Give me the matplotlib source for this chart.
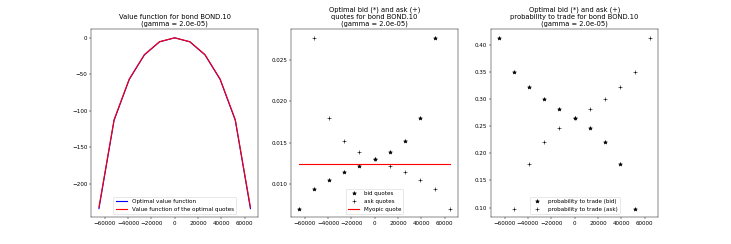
import numpy as np
import matplotlib
matplotlib.use('Agg')
import matplotlib.pyplot as plt

inventory = [-65000, -52000, -39000, -26000, -13000, 0, 13000, 26000, 39000, 52000, 65000]

value_opt = [-234, -113, -57, -23.4, -5.5, 0, -5.5, -23.4, -57, -113, -234]
value_quotes = [-232, -112, -56.5, -23, -5.3, 0, -5.3, -23, -56.5, -112, -232]

bid_quotes = [0.0070, 0.0094, 0.0105, 0.0114, 0.0122, 0.0130, 0.0139, 0.0152, 0.0180, 0.0277, np.nan]
ask_quotes = [np.nan, 0.0277, 0.0180, 0.0152, 0.0139, 0.0130, 0.0122, 0.0114, 0.0105, 0.0094, 0.0070]
myopic_quote = 0.01245

prob_bid = [0.413, 0.350, 0.322, 0.300, 0.282, 0.265, 0.246, 0.220, 0.180, 0.098, np.nan]
prob_ask = [np.nan, 0.098, 0.180, 0.220, 0.246, 0.265, 0.282, 0.300, 0.322, 0.350, 0.413]

gamma = 2.0e-05
bond = 'BOND.10'

dpi = 731 / 18.0
fig, (ax1, ax2, ax3) = plt.subplots(1, 3, figsize=(18, 244 / dpi))

ax1.plot(inventory, value_opt, 'b', lw=2, label='Optimal value function')
ax1.plot(inventory, value_quotes, 'r', lw=2, label='Value function of the optimal quotes')
ax1.set_title('Value function for bond %s\n(gamma = %.1e)' % (bond, gamma))
ax1.legend(loc='lower center')

ax2.plot(inventory, bid_quotes, 'k*', ms=7, label='bid quotes')
ax2.plot(inventory, ask_quotes, 'k+', ms=7, label='ask quotes')
ax2.plot([inventory[0], inventory[-1]], [myopic_quote, myopic_quote], 'r', lw=2, label='Myopic quote')
ax2.set_title('Optimal bid (*) and ask (+)\nquotes for bond %s\n(gamma = %.1e)' % (bond, gamma))
ax2.legend(loc='lower center')

ax3.plot(inventory, prob_bid, 'k*', ms=7, label='probability to trade (bid)')
ax3.plot(inventory, prob_ask, 'k+', ms=7, label='probability to trade (ask)')
ax3.set_title('Optimal bid (*) and ask (+)\nprobability to trade for bond %s\n(gamma = %.1e)' % (bond, gamma))
ax3.legend(loc='lower center')

plt.savefig('out.png', dpi=dpi)
